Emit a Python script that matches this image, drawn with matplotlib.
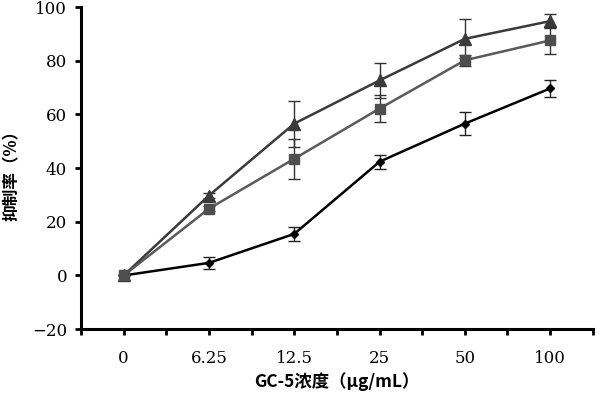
import numpy as np
import matplotlib
matplotlib.use("Agg")
import matplotlib.pyplot as plt

# Data
conc_labels = ['0', '6.25', '12.5', '25', '50', '100']

tri_vals = [0, 29.8, 56.6, 72.7, 88.2, 94.8]
tri_err = [0, 1.0, 8.6, 6.5, 7.3, 2.6]

sq_vals = [0, 24.9, 43.5, 62.2, 80.2, 87.6]
sq_err = [0, 1.0, 7.5, 5.0, 2.0, 5.0]

dia_vals = [0, 4.7, 15.5, 42.4, 56.6, 69.7]
dia_err = [0, 2.3, 2.7, 2.6, 4.4, 3.0]

x = np.arange(len(conc_labels))
plt.rcParams['font.family'] = ['DejaVu Serif', 'Noto Sans CJK SC']
cjk = ['Noto Sans CJK SC', 'DejaVu Sans']

fig = plt.figure(figsize=(6, 3.98), dpi=100)
ax = fig.add_axes([0.135, 0.173, 0.853, 0.809])

# Series
ax.errorbar(x, dia_vals, yerr=dia_err, color='black', lw=1.8, marker='D',
            ms=4, mfc='black', mec='black', ecolor='#222222', elinewidth=1,
            capsize=4, capthick=1, zorder=3)
ax.errorbar(x, tri_vals, yerr=tri_err, color='#3a3a3a', lw=1.8, marker='^',
            ms=8, mfc='#3a3a3a', mec='#3a3a3a', ecolor='#333333', elinewidth=1,
            capsize=4, capthick=1, zorder=4)
ax.errorbar(x, sq_vals, yerr=sq_err, color='#5a5a5a', lw=1.8, marker='s',
            ms=7, mfc='#4e4e4e', mec='#4e4e4e', ecolor='#333333', elinewidth=1,
            capsize=4, capthick=1, zorder=5)

# Axes
ax.set_xlim(-0.5, 5.5)
ax.set_ylim(-20, 100)
ax.set_yticks([-20, 0, 20, 40, 60, 80, 100])
ax.set_xticks(np.arange(-0.5, 5.6, 0.5))
ax.set_xticklabels(['' if i % 2 == 0 else conc_labels[i // 2] for i in range(13)])

for s in ['top', 'right']:
    ax.spines[s].set_visible(False)
for s in ['left', 'bottom']:
    ax.spines[s].set_linewidth(2.2)
ax.tick_params(axis='both', direction='out', length=4, width=2, labelsize=12)
ax.tick_params(axis='x', pad=11)
ax.tick_params(axis='y', pad=6)

ax.set_xlabel('GC-5浓度（μg/mL）', family=cjk, fontweight='bold', fontsize=12.5, labelpad=4)
ax.set_ylabel('抑制率（%）', family=cjk, fontweight='bold', fontsize=12)
ax.yaxis.set_label_coords(-0.118, 0.49)

plt.savefig('out.png', dpi=100)
